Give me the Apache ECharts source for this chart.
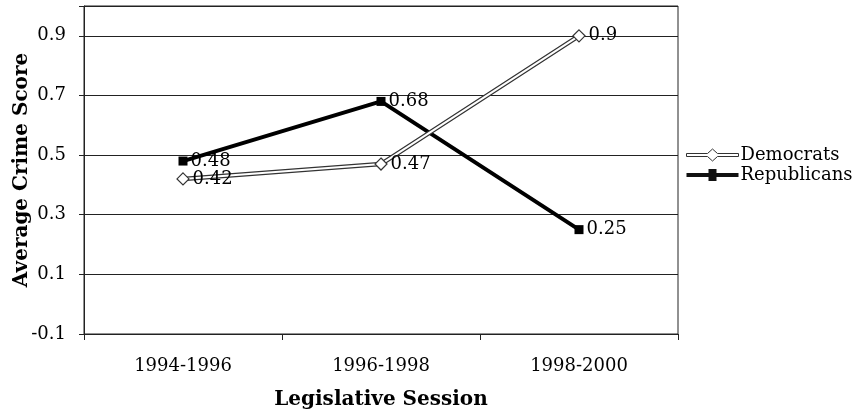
<!DOCTYPE html>
<html>
<head>
<meta charset="utf-8">
<script src="https://cdn.jsdelivr.net/npm/echarts@6/dist/echarts.min.js"></script>
<style>html,body{margin:0;padding:0;background:#fff;}#c{width:867px;height:411px;}</style>
</head>
<body>
<div id="c"></div>
<script>
const categories = ['1994-1996', '1996-1998', '1998-2000'];
const democrats = [0.42, 0.47, 0.9];
const republicans = [0.48, 0.68, 0.25];
const yTicks = [-0.1, 0.1, 0.3, 0.5, 0.7, 0.9];

const FONT = 'DejaVu Serif';
const chart = echarts.init(document.getElementById('c'));
const labelStyle = {show: true, position: 'right', distance: 3, color: '#000', fontFamily: FONT, fontSize: 18, formatter: p => String(p.value)};

chart.setOption({
  animation: false,
  backgroundColor: '#fff',
  grid: {left: 84, right: 189, top: 6, bottom: 77, show: true, borderColor: '#222', borderWidth: 1,
         outerBoundsMode: 'none', containLabel: false},
  legend: {
    orient: 'vertical', left: 686, top: 146, padding: 0, itemGap: 2,
    itemWidth: 52, itemHeight: 12,
    textStyle: {fontFamily: FONT, fontSize: 18, color: '#000', padding: [0, 0, 0, -3]},
    data: [
      {name: 'Democrats', icon: 'path://M0,4.5 H21 L26,0 L31,4.5 H52 V7.5 H31 L26,12 L21,7.5 H0 Z',
       itemStyle: {color: '#fff', borderColor: '#333', borderWidth: 1}},
      {name: 'Republicans', icon: 'path://M0,4 H22 V0 H30 V4 H52 V8 H30 V12 H22 V8 H0 Z',
       itemStyle: {color: '#111', borderColor: '#111', borderWidth: 0}}
    ]
  },
  xAxis: {
    type: 'category', data: categories, boundaryGap: true,
    name: 'Legislative Session', nameLocation: 'middle', nameGap: 56, nameMoveOverlap: false,
    nameTextStyle: {fontFamily: FONT, fontSize: 20, fontWeight: 'bold', color: '#000'},
    axisLine: {onZero: false, lineStyle: {color: '#222', width: 1}},
    axisTick: {show: true, alignWithLabel: false, length: 6, lineStyle: {color: '#222'}},
    axisLabel: {fontFamily: FONT, fontSize: 18, color: '#000', margin: 23}
  },
  yAxis: {
    type: 'value', min: -0.1, max: 1.0, interval: 0.2,
    name: 'Average Crime Score', nameLocation: 'middle', nameGap: 52, nameMoveOverlap: false,
    nameTextStyle: {fontFamily: FONT, fontSize: 20, fontWeight: 'bold', color: '#000'},
    axisLine: {show: true, lineStyle: {color: '#222', width: 1}},
    axisTick: {show: true, length: 5, lineStyle: {color: '#222'}},
    axisLabel: {fontFamily: FONT, fontSize: 18, color: '#000', margin: 18,
      formatter: v => {
        const t = yTicks.find(y => Math.abs(y - v) < 1e-6);
        return t === undefined ? '' : t.toFixed(1);
      }},
    splitLine: {show: true, lineStyle: {color: '#222', width: 1}}
  },
  series: [
    {name: 'Republicans', type: 'line', data: republicans, z: 2,
     lineStyle: {color: '#000', width: 4}, symbol: 'rect', symbolSize: 9,
     itemStyle: {color: '#000'}, label: labelStyle},
    {name: 'DemOutline', type: 'line', data: democrats, z: 3, silent: true,
     lineStyle: {color: '#333', width: 4.5}, symbol: 'none'},
    {name: 'DemInner', type: 'line', data: democrats, z: 4, silent: true,
     lineStyle: {color: '#fff', width: 2}, symbol: 'none'},
    {name: 'Democrats', type: 'line', data: democrats, z: 5,
     lineStyle: {opacity: 0}, symbol: 'diamond', symbolSize: 12, showAllSymbol: true,
     itemStyle: {color: '#fff', borderColor: '#333', borderWidth: 1.2}, label: labelStyle}
  ]
});
</script>
</body>
</html>
